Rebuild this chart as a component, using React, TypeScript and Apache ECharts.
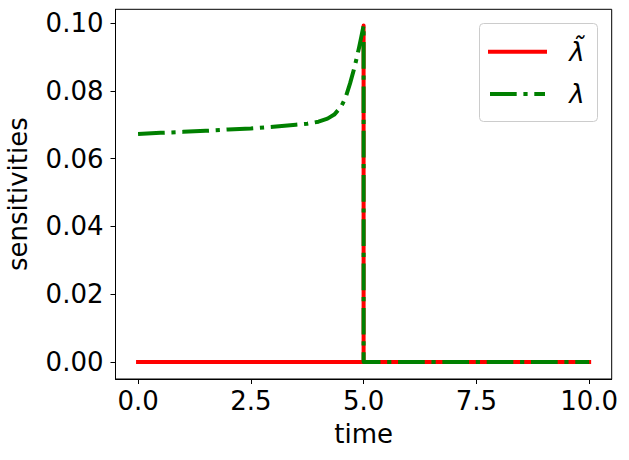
import React, { useEffect, useRef } from "react";
import * as echarts from "echarts";

const xTicks = [0, 2.5, 5, 7.5, 10];
const yTicks = [0, 0.02, 0.04, 0.06, 0.08, 0.1];

const tildeTime = [0, 5, 5, 5, 10];
const tildeValues = [0, 0, 0.0993, 0, 0];

const lambdaTime = [0, 0.5, 1, 1.5, 2, 2.5, 3, 3.5, 3.75, 4, 4.2, 4.35, 4.5, 4.6, 4.7, 4.8, 4.9, 4.95, 5, 5, 10];
const lambdaValues = [0.0673, 0.0676, 0.0679, 0.0682, 0.0686, 0.0689, 0.0694, 0.07, 0.0703, 0.0709, 0.0718, 0.073, 0.0753, 0.078, 0.0822, 0.087, 0.0928, 0.096, 0.0993, 0, 0];

const seriesNames = ["λ\u0303", "λ"];
const FONT = "DejaVu Sans";
const FS = 26;
const DASHDOT = [26.7, 6.7, 4.2, 6.7];

export default function App() {
  const ref = useRef<HTMLDivElement>(null);
  useEffect(() => {
    document.body.style.margin = "0";
    const chart = echarts.init(ref.current!, null, { renderer: "svg" });
    const zip = (t: number[], v: number[]) => t.map((x, i) => [x, v[i]]);
    chart.setOption({
      animation: false,
      backgroundColor: "#ffffff",
      textStyle: { fontFamily: FONT },
      grid: {
        left: 115.5,
        top: 9.3,
        right: 17.3,
        bottom: 81,
        containLabel: false,
        outerBoundsMode: "none",
        show: true,
        borderColor: "#000",
        borderWidth: 1,
        backgroundColor: "transparent",
      },
      xAxis: {
        type: "value",
        min: -0.5,
        max: 10.5,
        name: "time",
        nameLocation: "middle",
        nameGap: 42,
        nameTextStyle: { fontSize: FS, color: "#000", fontFamily: FONT },
        axisLine: { show: true, onZero: false, lineStyle: { color: "#000", width: 1 } },
        axisTick: { show: true, inside: false, length: 5, customValues: xTicks, lineStyle: { color: "#000" } },
        axisLabel: {
          customValues: xTicks,
          fontSize: FS,
          color: "#000",
          fontFamily: FONT,
          margin: 9,
          formatter: (v: number) => v.toFixed(1),
        },
        splitLine: { show: false },
      },
      yAxis: {
        type: "value",
        min: -0.005,
        max: 0.10405,
        name: "sensitivities",
        nameLocation: "middle",
        nameGap: 85,
        nameTextStyle: { fontSize: FS, color: "#000", fontFamily: FONT },
        axisLine: { show: true, onZero: false, lineStyle: { color: "#000", width: 1 } },
        axisTick: { show: true, inside: false, length: 5, customValues: yTicks, lineStyle: { color: "#000" } },
        axisLabel: {
          customValues: yTicks,
          fontSize: FS,
          color: "#000",
          fontFamily: FONT,
          margin: 12,
          formatter: (v: number) => v.toFixed(2),
        },
        splitLine: { show: false },
      },
      series: [
        {
          name: seriesNames[0],
          type: "line",
          data: zip(tildeTime, tildeValues),
          showSymbol: false,
          symbol: "none",
          lineStyle: { color: "#ff0000", width: 4, cap: "square", join: "round" },
        },
        {
          name: seriesNames[1],
          type: "line",
          data: zip(lambdaTime, lambdaValues),
          showSymbol: false,
          symbol: "none",
          lineStyle: { color: "#008000", width: 4, type: DASHDOT, cap: "butt", join: "round" },
        },
      ],
      graphic: [
        {
          type: "rect",
          shape: { x: 479.5, y: 23.5, width: 118, height: 98, r: 4 },
          style: { fill: "rgba(255,255,255,0.8)", stroke: "#cccccc", lineWidth: 1 },
          z: 100,
        },
        {
          type: "line",
          shape: { x1: 488, y1: 51.7, x2: 547, y2: 51.7 },
          style: { stroke: "#ff0000", lineWidth: 4 },
          z: 101,
        },
        {
          type: "line",
          shape: { x1: 490, y1: 94, x2: 545, y2: 94 },
          style: { stroke: "#008000", lineWidth: 4, lineDash: DASHDOT, lineCap: "butt" },
          z: 101,
        },
        {
          type: "text",
          x: 577,
          y: 51.7,
          style: {
            text: seriesNames[0],
            fontSize: FS,
            fontStyle: "italic",
            fontFamily: FONT,
            fill: "#000",
            align: "center",
            verticalAlign: "middle",
          },
          z: 101,
        },
        {
          type: "text",
          x: 577,
          y: 94,
          style: {
            text: seriesNames[1],
            fontSize: FS,
            fontStyle: "italic",
            fontFamily: FONT,
            fill: "#000",
            align: "center",
            verticalAlign: "middle",
          },
          z: 101,
        },
      ],
    });
    return () => chart.dispose();
  }, []);
  return <div ref={ref} style={{ width: 629, height: 460 }} />;
}
